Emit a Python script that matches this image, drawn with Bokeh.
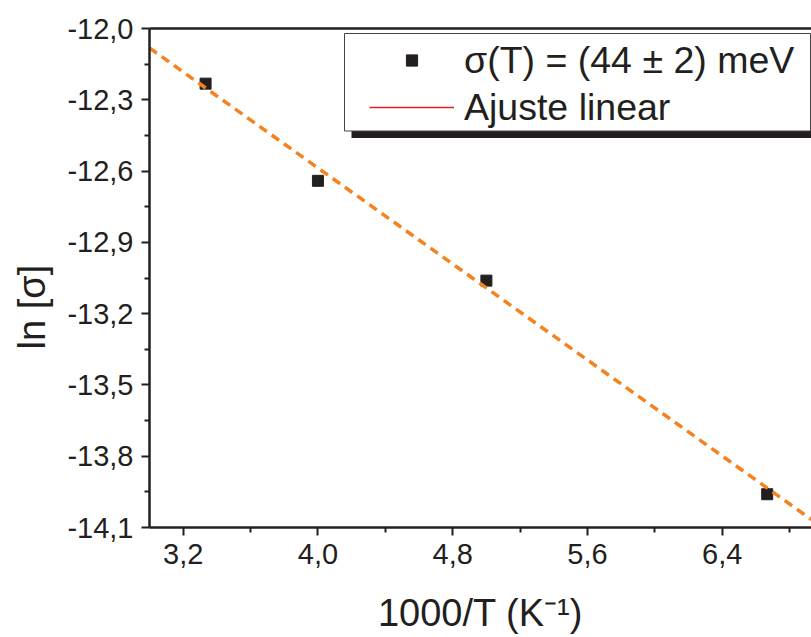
import numpy as np
from bokeh.plotting import figure
from bokeh.models import (LinearAxis, FixedTicker, CustomJSTickFormatter, Legend, LegendItem,
                          BoxAnnotation, Title, Range1d)
from bokeh.embed import file_html
from bokeh.resources import INLINE

# ---------------- data ----------------
inv_T = [3.333, 4.0, 5.0, 6.667]                 # 1000/T (K^-1)
ln_sigma = [-12.232, -12.641, -13.061, -13.960]  # ln[sigma]
fit_slope = -0.505
fit_intercept = -10.567
x_ticks = [3.2, 4.0, 4.8, 5.6, 6.4]
x_minor = [3.6, 4.4, 5.2, 6.0, 6.8]
y_ticks = [-14.1, -13.8, -13.5, -13.2, -12.9, -12.6, -12.3, -12.0]
y_minor = [-13.95, -13.65, -13.35, -13.05, -12.75, -12.45, -12.15]
x_lim = [3.0, 6.93]
y_lim = [-14.1, -12.0]
legend_labels = ["σ(T) = (44 ± 2) meV", "Ajuste linear"]
x_title = "1000/T (K⁻¹)"
y_title = "ln [σ]"

FONT = "Liberation Sans"
INK = "#231F20"
ORANGE = "#F5821F"

p = figure(width=811, height=637, output_backend="svg", toolbar_location=None,
           x_range=Range1d(*x_lim), y_range=Range1d(*y_lim),
           min_border_left=148, min_border_right=0, min_border_top=28, min_border_bottom=110)
p.xgrid.visible = False
p.ygrid.visible = False
p.outline_line_color = None
p.background_fill_color = "white"

fmt = CustomJSTickFormatter(code="return tick.toFixed(1).replace('.', ',');")
for ax, tk, mn in ((p.xaxis[0], x_ticks, x_minor), (p.yaxis[0], y_ticks, y_minor)):
    ax.ticker = FixedTicker(ticks=tk, minor_ticks=mn)
    ax.formatter = fmt
    ax.axis_line_width = 2.5
    ax.axis_line_color = INK
    ax.major_tick_line_width = 2
    ax.minor_tick_line_width = 2
    ax.major_tick_line_color = INK
    ax.minor_tick_line_color = INK
    ax.major_tick_out = 8
    ax.major_tick_in = 0
    ax.minor_tick_out = 5
    ax.minor_tick_in = 0
    ax.major_label_text_font = FONT
    ax.major_label_text_font_size = "29px"
    ax.major_label_text_color = INK
    ax.major_label_standoff = 8

p.xaxis.axis_label = x_title
p.xaxis.axis_label_text_font = FONT
p.xaxis.axis_label_text_font_size = "38px"
p.xaxis.axis_label_text_font_style = "normal"
p.xaxis.axis_label_text_color = INK
p.xaxis.axis_label_standoff = 25

top = LinearAxis(ticker=FixedTicker(ticks=[]), major_tick_out=0, minor_tick_out=0,
                 major_tick_in=0, minor_tick_in=0, major_label_text_font_size="0px",
                 axis_line_width=2.5, axis_line_color=INK)
p.add_layout(top, "above")

# y title (placed below the frame centre as in the original)
p.add_layout(Title(text=y_title, align="left", offset=178, standoff=20, vertical_align="top",
                   text_font=FONT, text_font_size="38px", text_font_style="normal",
                   text_color=INK), "left")

# fit line
xf = np.array(x_lim)
yf = fit_slope * xf + fit_intercept

pts = p.scatter(inv_T, ln_sigma, marker="square", size=11, fill_color=INK, line_color=INK)
p.line(xf, yf, line_color=ORANGE, line_width=3.5, line_dash="9 6")
dummy = p.line([np.nan, np.nan], [np.nan, np.nan], line_color="#E02027", line_width=1.5)

# legend box with shadow
p.add_layout(BoxAnnotation(left=202, right=680, top=487, bottom=389.5,
                           left_units="screen", right_units="screen",
                           top_units="screen", bottom_units="screen",
                           fill_color=INK, fill_alpha=1, line_color=None))
p.add_layout(BoxAnnotation(left=195, right=661, top=494, bottom=396.5,
                           left_units="screen", right_units="screen",
                           top_units="screen", bottom_units="screen",
                           fill_color="white", fill_alpha=1, line_color="#444444",
                           line_width=1, line_alpha=1))

legend = Legend(items=[LegendItem(label=legend_labels[0], renderers=[pts]),
                       LegendItem(label=legend_labels[1], renderers=[dummy])],
                location=(220, 398), glyph_width=85, glyph_height=28, label_height=44,
                label_standoff=10, padding=0, spacing=3, margin=0,
                border_line_color=None, background_fill_alpha=0,
                label_text_font=FONT, label_text_font_size="37.5px", label_text_color=INK)
p.add_layout(legend)

open("out.html", "w").write(file_html(p, INLINE))
